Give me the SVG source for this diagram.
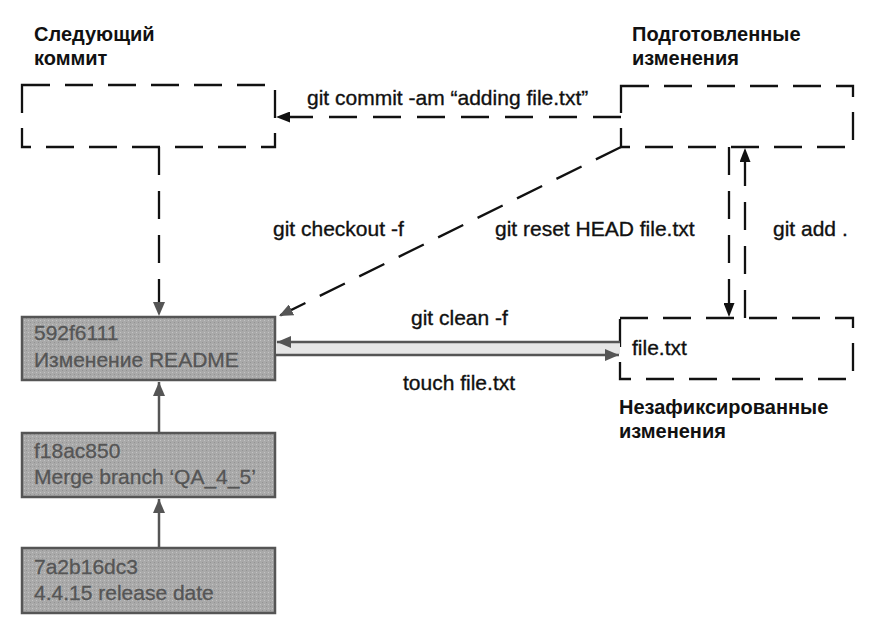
<svg xmlns="http://www.w3.org/2000/svg" width="896" height="625" viewBox="0 0 896 625">
<defs>
<marker id="ab" viewBox="0 0 14 11" refX="14" refY="5.5" markerWidth="14" markerHeight="11" markerUnits="userSpaceOnUse" orient="auto"><path d="M0,0 L14,5.5 L0,11 Z" fill="#111"/></marker>
<marker id="ag" viewBox="0 0 14 12" refX="14" refY="6" markerWidth="14" markerHeight="12" markerUnits="userSpaceOnUse" orient="auto"><path d="M0,0 L14,6 L0,12 Z" fill="#555"/></marker>
<pattern id="tex" width="4" height="4" patternUnits="userSpaceOnUse"><rect width="4" height="4" fill="#a9a9a9"/><rect x="0" y="0" width="1" height="1" fill="#c4c4c4"/><rect x="2" y="2" width="1" height="1" fill="#939393"/></pattern>
</defs>
<style>
.dbox{fill:none;stroke:#111;stroke-width:2.3;stroke-dasharray:28 15}
.dline{fill:none;stroke:#111;stroke-width:2.3;stroke-dasharray:28 16}
.cbox{fill:url(#tex);stroke:#555;stroke-width:2.5}
.gline{fill:none;stroke:#555;stroke-width:2.5}
.t{font-family:"Liberation Sans",Arial,sans-serif;font-size:21px;fill:#111;stroke:#111;stroke-width:0.35}
.h{font-family:"Liberation Sans",Arial,sans-serif;font-size:20px;font-weight:bold;fill:#111}
.ct{font-family:"Liberation Sans",Arial,sans-serif;font-size:21px;fill:#555;stroke:#555;stroke-width:0.3}
</style>
<rect width="896" height="625" fill="#fff"/>

<g id="next-commit">
<rect class="dbox" x="22" y="85" width="253" height="62"/>
<text class="h" x="34" y="41">Следующий</text>
<text class="h" x="34" y="65">коммит</text>
</g>

<g id="staged">
<rect class="dbox" x="621" y="86" width="232" height="61"/>
<text class="h" x="632" y="41">Подготовленные</text>
<text class="h" x="632" y="65">изменения</text>
</g>

<g id="working">
<rect class="dbox" x="620" y="318" width="233" height="61"/>
<text class="t" x="632" y="355">file.txt</text>
<text class="h" x="619" y="414">Незафиксированные</text>
<text class="h" x="619" y="438">изменения</text>
</g>

<g id="c592f6111">
<rect class="cbox" x="22" y="317" width="253" height="63"/>
<text class="ct" x="34" y="340">592f6111</text>
<text class="ct" x="34" y="367">Изменение README</text>
</g>

<g id="cf18ac850">
<rect class="cbox" x="22" y="433" width="253" height="64"/>
<text class="ct" x="34" y="458">f18ac850</text>
<text class="ct" x="34" y="484">Merge branch ‘QA_4_5’</text>
</g>

<g id="c7a2b16dc3">
<rect class="cbox" x="22" y="548" width="253" height="65"/>
<text class="ct" x="34" y="574">7a2b16dc3</text>
<text class="ct" x="34" y="600">4.4.15 release date</text>
</g>

<g id="connectors">
<line class="dline" x1="621" y1="117" x2="276" y2="117" marker-end="url(#ab)"/>
<text class="t" x="307" y="105">git commit -am “adding file.txt”</text>

<line class="dline" x1="159" y1="147" x2="159" y2="316" marker-end="url(#ag)"/>

<line class="dline" x1="621" y1="147" x2="279" y2="316" marker-end="url(#ag)"/>
<text class="t" x="273" y="236">git checkout -f</text>

<line class="dline" x1="729" y1="147" x2="729" y2="317" marker-end="url(#ab)"/>
<text class="t" x="495" y="236">git reset HEAD file.txt</text>
<line class="dline" x1="745" y1="318" x2="745" y2="148" marker-end="url(#ab)"/>
<text class="t" x="773" y="236">git add .</text>

<rect x="276" y="343" width="344" height="11" fill="#e6e6e6"/>
<line class="gline" x1="620" y1="342" x2="277" y2="342" marker-end="url(#ag)"/>
<line class="gline" x1="276" y1="355" x2="619" y2="355" marker-end="url(#ag)"/>
<text class="t" x="411" y="325">git clean -f</text>
<text class="t" x="403" y="390">touch file.txt</text>

<line class="gline" x1="159" y1="433" x2="159" y2="382" marker-end="url(#ag)"/>
<line class="gline" x1="159" y1="548" x2="159" y2="499" marker-end="url(#ag)"/>
</g>
</svg>
